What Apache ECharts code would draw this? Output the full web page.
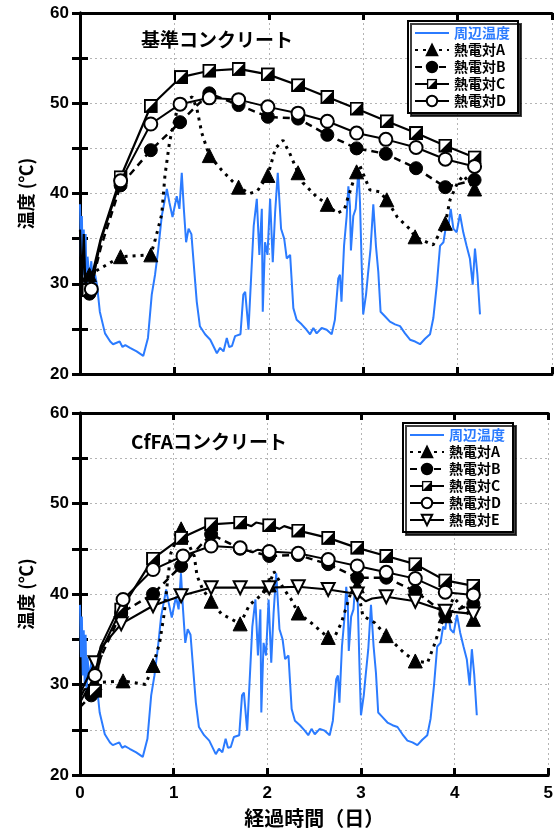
<!DOCTYPE html>
<html><head><meta charset="utf-8">
<script src="https://cdn.jsdelivr.net/npm/echarts@6/dist/echarts.min.js"></script>
<style>html,body{margin:0;padding:0;background:#fff}#c{width:556px;height:832px}</style>
</head><body><div id="c"></div>
<script>
// ---- data (x = elapsed days, y = °C); third value 1 = marker point, 0 = path point
const xTicks = [0, 1, 2, 3, 4, 5];
const yTicks = [20, 30, 40, 50, 60];
const ambient = [[0.00,38.8],[0.01,33],[0.02,37.5],[0.03,31],[0.04,36],[0.05,30],[0.06,35.5],[0.07,28.5],[0.08,33],[0.10,30.5],[0.12,32.5],[0.14,29],[0.16,31],[0.18,29.9],[0.21,26.9],[0.265,24.5],[0.32,23.6],[0.35,23.3],[0.42,23.6],[0.45,23.0],[0.48,23.2],[0.53,22.9],[0.60,22.5],[0.67,22.0],[0.72,24.0],[0.76,28.8],[0.795,31.0],[0.83,33.9],[0.866,37.5],[0.92,40.5],[0.947,39.0],[0.98,37.4],[1.025,39.7],[1.053,38.3],[1.078,42.3],[1.10,38.3],[1.124,34.6],[1.15,36.1],[1.18,35.5],[1.22,30.2],[1.237,28.0],[1.27,25.3],[1.325,24.4],[1.38,23.8],[1.45,22.3],[1.484,22.9],[1.52,22.5],[1.555,24.0],[1.58,23.0],[1.61,23.1],[1.643,24.2],[1.70,24.4],[1.73,28.8],[1.75,29.1],[1.785,24.9],[1.80,25.1],[1.84,36.4],[1.873,39.4],[1.90,33.2],[1.926,38.3],[1.936,26.9],[1.96,34.6],[1.986,33.2],[2.014,39.4],[2.042,32.4],[2.067,37.9],[2.095,42.3],[2.13,36.1],[2.163,35.0],[2.19,32.8],[2.226,33.2],[2.26,27.3],[2.295,26.0],[2.348,25.5],[2.40,24.9],[2.437,24.4],[2.472,25.1],[2.507,24.5],[2.56,25.1],[2.613,24.9],[2.666,24.4],[2.70,26.0],[2.736,30.6],[2.754,31.0],[2.77,28.0],[2.797,34.2],[2.825,37.5],[2.843,40.8],[2.86,38.6],[2.87,33.7],[2.895,37.5],[2.92,38.3],[2.95,42.7],[2.966,39.0],[2.984,32.1],[3.0,26.6],[3.03,28.8],[3.05,31.0],[3.078,33.9],[3.107,38.8],[3.135,34.2],[3.16,31.3],[3.184,26.9],[3.23,26.4],[3.283,25.8],[3.337,25.5],[3.39,25.3],[3.443,24.5],[3.496,23.8],[3.55,23.6],[3.602,23.3],[3.655,23.9],[3.708,24.4],[3.743,26.2],[3.78,29.9],[3.814,34.2],[3.85,34.6],[3.877,36.4],[3.90,36.1],[3.927,38.3],[3.955,36.1],[3.99,35.7],[4.025,37.7],[4.06,35.7],[4.095,34.2],[4.13,32.8],[4.16,29.9],[4.184,33.9],[4.21,31.0],[4.237,26.6]];

const topA = [[0.10,31.0,1],[0.43,33.0,1],[0.75,33.2,1],[0.80,35.0,0],[0.866,37.7,0],[0.90,42.0,0],[0.95,45.8,0],[1.03,49.3,0],[1.13,50.4,0],[1.19,50.7,0],[1.24,49.3,0],[1.29,46.7,0],[1.37,44.2,1],[1.50,42.6,0],[1.62,41.3,0],[1.68,40.7,1],[1.80,40.0,0],[1.88,40.3,0],[1.99,42.0,1],[2.07,45.0,0],[2.15,45.9,0],[2.22,44.5,0],[2.31,42.3,1],[2.36,41.2,0],[2.51,39.6,0],[2.62,38.8,1],[2.72,37.8,0],[2.80,38.2,0],[2.84,39.6,0],[2.89,41.2,0],[2.93,42.4,1],[2.96,43.2,0],[3.07,40.4,0],[3.17,40.2,0],[3.25,39.3,1],[3.36,37.4,0],[3.50,36.0,0],[3.55,35.2,1],[3.74,34.3,0],[3.87,36.7,1],[3.92,39.3,0],[4.00,41.2,0],[4.06,42.0,0],[4.18,40.5,1]];
const topB = [[0.0,30.5,0],[0.10,28.9,1],[0.22,34.0,0],[0.43,40.9,1],[0.75,44.8,1],[1.06,47.9,1],[1.37,51.1,1],[1.68,49.8,1],[1.99,48.5,1],[2.31,48.3,1],[2.62,46.5,1],[2.93,45.0,1],[3.24,44.4,1],[3.56,42.8,1],[3.87,40.7,1],[4.18,41.5,1]];
const topC = [[0.0,36.0,0],[0.02,29.5,0],[0.04,35.5,0],[0.06,28.8,0],[0.09,29.3,1],[0.22,35.0,0],[0.43,41.8,1],[0.75,49.7,1],[1.07,52.9,1],[1.37,53.6,1],[1.68,53.8,1],[1.99,53.2,1],[2.31,52.0,1],[2.62,50.7,1],[2.93,49.4,1],[3.25,48.0,1],[3.56,46.7,1],[3.87,45.3,1],[4.18,44.0,1]];
const topD = [[0.0,31.0,0],[0.12,29.4,1],[0.22,34.8,0],[0.43,41.4,1],[0.75,47.7,1],[1.06,49.9,1],[1.37,50.6,1],[1.68,50.4,1],[1.99,49.6,1],[2.31,48.9,1],[2.62,48.0,1],[2.93,46.7,1],[3.24,46.0,1],[3.56,45.1,1],[3.87,43.8,1],[4.18,43.0,1]];

const botA = [[0.16,30.2,1],[0.46,30.4,1],[0.70,30.0,0],[0.78,32.1,1],[0.85,34.6,0],[0.90,37.9,0],[0.936,41.6,0],[0.97,44.5,0],[1.08,47.2,1],[1.22,44.2,0],[1.25,42.0,0],[1.31,40.5,0],[1.40,39.2,1],[1.51,37.8,0],[1.71,36.7,1],[1.81,38.8,0],[1.95,40.0,0],[2.02,41.0,1],[2.07,42.5,0],[2.18,40.5,0],[2.255,39.4,0],[2.33,37.9,1],[2.47,36.8,0],[2.65,35.2,1],[2.72,35.3,0],[2.79,36.8,0],[2.89,40.1,0],[2.96,40.9,1],[3.02,37.6,0],[3.15,36.8,0],[3.27,35.4,1],[3.46,33.5,0],[3.58,32.6,1],[3.71,32.4,0],[3.78,34.3,0],[3.85,36.5,0],[3.90,37.6,1],[3.99,39.6,0],[4.20,37.2,1]];
const botB = [[0.0,27.5,0],[0.12,28.8,1],[0.22,33.0,0],[0.44,37.9,1],[0.78,40.0,1],[1.08,43.1,1],[1.40,46.6,1],[1.71,45.0,1],[2.02,44.2,1],[2.33,44.3,1],[2.65,43.3,1],[2.96,41.8,1],[3.27,41.8,1],[3.58,40.3,1],[3.90,37.8,1],[4.20,38.9,1]];
const botC = [[0.0,28.5,0],[0.05,29.5,0],[0.16,29.3,1],[0.22,33.6,0],[0.44,38.3,1],[0.78,43.9,1],[1.08,46.2,1],[1.40,47.7,1],[1.71,47.9,1],[1.83,47.5,0],[1.88,47.9,0],[2.02,47.6,1],[2.13,47.2,0],[2.18,47.5,0],[2.33,47.0,1],[2.65,46.2,1],[2.96,45.1,1],[3.27,44.2,1],[3.58,43.3,1],[3.90,41.5,1],[4.20,40.9,1]];
const botD = [[0.0,28.0,0],[0.16,31.0,1],[0.22,34.2,0],[0.46,39.4,1],[0.78,42.7,1],[1.10,44.2,1],[1.40,45.3,1],[1.71,45.1,1],[1.84,44.6,0],[1.90,44.9,0],[2.02,44.7,1],[2.33,44.5,1],[2.65,43.8,1],[2.96,43.1,1],[3.27,42.4,1],[3.58,41.7,1],[3.90,40.2,1],[4.20,39.9,1]];
const botE = [[0.0,29.0,0],[0.16,32.4,1],[0.22,34.0,0],[0.44,36.7,1],[0.78,38.7,1],[1.08,39.8,1],[1.40,40.7,1],[1.71,40.7,1],[2.02,40.7,1],[2.33,40.8,1],[2.65,40.5,1],[2.96,40.0,1],[3.05,39.2,0],[3.12,39.5,0],[3.27,39.7,1],[3.58,39.2,1],[3.90,38.1,1],[4.20,37.8,1]];

const panelTitles = ['基準コンクリート', 'CfFAコンクリート'];
const ambientName = '周辺温度';
const tcNames = ['熱電対A', '熱電対B', '熱電対C', '熱電対D', '熱電対E'];
const yName = '温度 (℃)';
const xName = '経過時間（日）';

// ---- styles
const BLUE = '#2b7bff';
const NUM_FONT = '"Liberation Sans", Arial, sans-serif';
const JP_FONT = '"Noto Sans CJK JP", sans-serif';
const halfSq = 'image://data:image/svg+xml;utf8,' + encodeURIComponent(
  '<svg xmlns="http://www.w3.org/2000/svg" width="28" height="28" viewBox="0 0 28 28">' +
  '<rect x="2" y="2" width="24" height="24" fill="#fff" stroke="#000" stroke-width="4"/>' +
  '<path d="M26 2 L26 26 L2 26 Z" fill="#000"/></svg>');

const tcStyle = {
  '熱電対A': {symbol: 'triangle', symbolSize: 14, itemStyle: {color: '#000', borderColor: '#000', borderWidth: 1}, lineStyle: {color: '#000', width: 3, type: [3, 5]}},
  '熱電対B': {symbol: 'circle', symbolSize: 13, itemStyle: {color: '#000', borderColor: '#000', borderWidth: 1}, lineStyle: {color: '#000', width: 2.5, type: [7, 5]}},
  '熱電対C': {symbol: halfSq, symbolSize: 14, itemStyle: {color: '#000'}, lineStyle: {color: '#000', width: 2.2, type: 'solid'}},
  '熱電対D': {symbol: 'circle', symbolSize: 13, itemStyle: {color: '#fff', borderColor: '#000', borderWidth: 2}, lineStyle: {color: '#000', width: 2, type: 'solid'}},
  '熱電対E': {symbol: 'triangle', symbolRotate: 180, symbolSize: 13, itemStyle: {color: '#fff', borderColor: '#000', borderWidth: 2}, lineStyle: {color: '#000', width: 2.2, type: 'solid'}}
};

function tcSeries(name, pts, gi, z) {
  const s = tcStyle[name];
  return Object.assign({
    name: name, type: 'line', xAxisIndex: gi * 2, yAxisIndex: gi * 2,
    showAllSymbol: true, animation: false, z: z,
    data: pts.map(p => p[2] ? {value: [p[0], p[1]]} : {value: [p[0], p[1]], symbol: 'none'})
  }, s);
}
function ambSeries(gi) {
  return {name: ambientName, type: 'line', xAxisIndex: gi * 2, yAxisIndex: gi * 2, symbol: 'none',
    animation: false, z: 1, lineStyle: {color: BLUE, width: 2}, itemStyle: {color: BLUE}, data: ambient};
}

const grids = [{left: 80, top: 13, width: 472, height: 361}, {left: 80, top: 413, width: 472, height: 362}];
const tickStyle = {show: true, inside: true, length: 7, lineStyle: {color: '#000', width: 3}};
const lineStyleAxis = {show: true, lineStyle: {color: '#000', width: 3}};
const splitStyle = {show: true, lineStyle: {color: '#b4b4b4', width: 1, type: [2, 3]}};

const xAxes = [], yAxes = [];
grids.forEach((g, gi) => {
  const last = gi === grids.length - 1;
  xAxes.push({gridIndex: gi, type: 'value', min: xTicks[0], max: xTicks[xTicks.length - 1], interval: 1, position: 'bottom',
    axisLine: lineStyleAxis, axisTick: tickStyle, splitLine: splitStyle,
    axisLabel: {show: last, margin: 10, color: '#000', fontSize: 17, fontWeight: 'bold', fontFamily: NUM_FONT},
    name: last ? xName : '', nameLocation: 'middle', nameGap: 33,
    nameTextStyle: {color: '#000', fontSize: 20, fontWeight: 'bold', fontFamily: JP_FONT}});
  xAxes.push({gridIndex: gi, type: 'value', min: 0, max: 5, interval: 1, position: 'top',
    axisLine: lineStyleAxis, axisTick: tickStyle, splitLine: {show: false}, axisLabel: {show: false}});
  yAxes.push({gridIndex: gi, type: 'value', min: yTicks[0], max: yTicks[yTicks.length - 1], interval: 5, position: 'left',
    axisLine: lineStyleAxis, axisTick: Object.assign({}, tickStyle, {length: 8}), splitLine: splitStyle,
    axisLabel: {margin: 11, color: '#000', fontSize: 17, fontWeight: 'bold', fontFamily: NUM_FONT,
      formatter: v => yTicks.indexOf(v) >= 0 ? String(v) : ''},
    name: yName, nameLocation: 'middle', nameGap: 45, nameRotate: 90,
    nameTextStyle: {color: '#000', fontSize: 18, fontWeight: 'bold', fontFamily: JP_FONT, padding: [0, 0, 0, 0]}});
  yAxes.push({gridIndex: gi, type: 'value', min: 20, max: 60, interval: 5, position: 'right',
    axisLine: lineStyleAxis, axisTick: Object.assign({}, tickStyle, {length: 8}), splitLine: {show: false}, axisLabel: {show: false}});
});

const series = [
  ambSeries(0),
  tcSeries('熱電対A', topA, 0, 3), tcSeries('熱電対B', topB, 0, 4), tcSeries('熱電対C', topC, 0, 5), tcSeries('熱電対D', topD, 0, 6),
  ambSeries(1),
  tcSeries('熱電対A', botA, 1, 3), tcSeries('熱電対B', botB, 1, 4), tcSeries('熱電対E', botE, 1, 5), tcSeries('熱電対C', botC, 1, 6), tcSeries('熱電対D', botD, 1, 7)
];

function legendOf(names, left, top) {
  return {
    orient: 'vertical', left: left, top: top, selectedMode: false,
    itemWidth: 34, itemHeight: 13, itemGap: 3,
    padding: [5, 8, 5, 6],
    backgroundColor: '#fff', borderColor: '#000', borderWidth: 2,
    shadowColor: 'rgba(0,0,0,0.75)', shadowBlur: 0, shadowOffsetX: 3, shadowOffsetY: 3,
    textStyle: {color: '#000', fontSize: 14, fontWeight: 'bold', fontFamily: JP_FONT, padding: [0, 0, 0, 0]},
    data: [{name: ambientName, textStyle: {color: BLUE},
            itemStyle: {opacity: 0},
            lineStyle: {color: BLUE, width: 2, opacity: 1}}].concat(names)
  };
}

const option = {
  backgroundColor: '#fff',
  animation: false,
  title: [
    {text: panelTitles[0], left: 136, top: 25, textStyle: {color: '#000', fontSize: 19, fontWeight: 'bold', fontFamily: JP_FONT}},
    {text: panelTitles[1], left: 126, top: 427, textStyle: {color: '#000', fontSize: 19, fontWeight: 'bold', fontFamily: JP_FONT}}
  ],
  legend: [legendOf(tcNames.slice(0, 4), 408, 21), legendOf(tcNames, 403, 423)],
  grid: grids,
  xAxis: xAxes,
  yAxis: yAxes,
  series: series
};
const chart = echarts.init(document.getElementById('c'), null, {renderer: 'canvas'});
chart.setOption(option);
</script></body></html>
